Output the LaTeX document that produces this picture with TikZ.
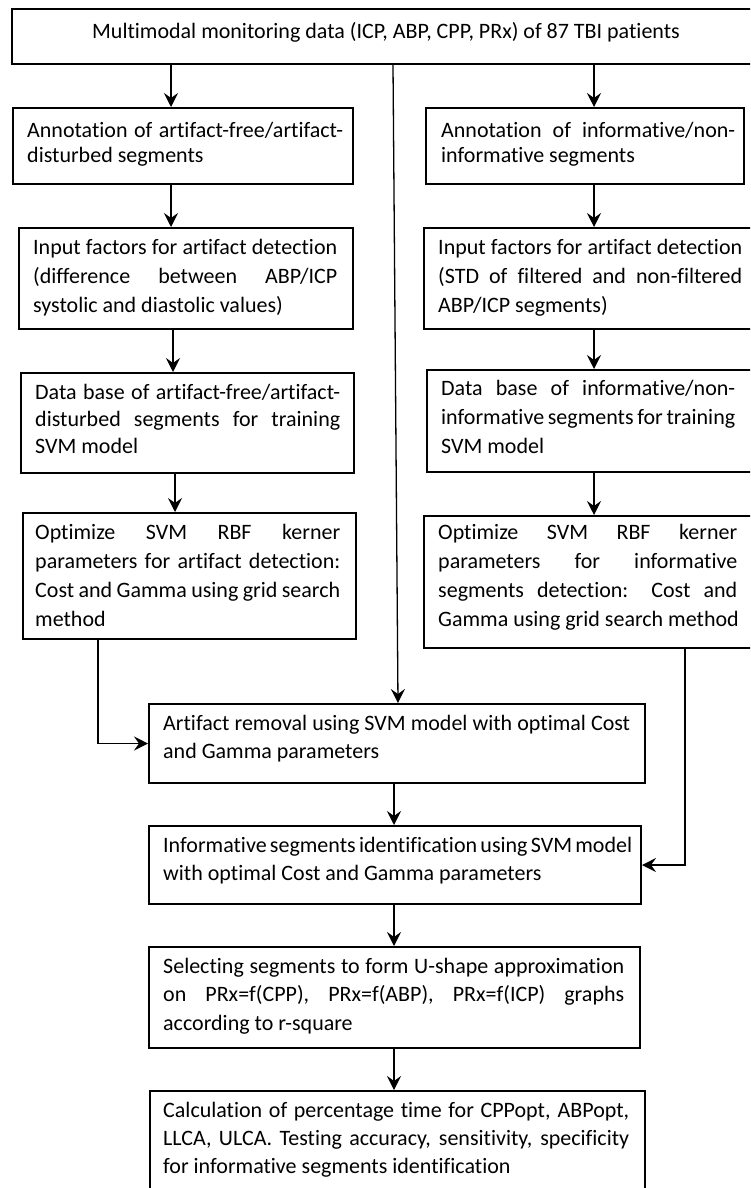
\documentclass[tikz,border=0pt]{standalone}
\usepackage{fontspec}
\setmainfont{Carlito}[Ligatures=NoCommon]
\usetikzlibrary{arrows.meta}
\newcommand{\fs}[1]{\fontsize{22pt}{#1pt}\selectfont}
\newlength{\tw}
\newcommand{\jline}[1]{{\spaceskip=0pt\xspaceskip=0pt\makebox[\tw][s]{\strut #1}}}
\newcommand{\lline}[1]{{\spaceskip=0pt\xspaceskip=0pt\makebox[\tw][l]{\strut #1}}}
\begin{document}
\begin{tikzpicture}[x=1pt,y=-1pt,
  box/.style={draw, line width=2pt, rectangle, inner sep=0pt, anchor=north west},
  txt/.style={inner sep=0pt, anchor=west, align=left},
  tw/.style={text width=#1pt, execute at begin node={\setlength{\tw}{#1pt}}},
  arr/.style={line width=1.3pt, -{Stealth[length=14pt,width=14pt,inset=5pt]}}]
\useasboundingbox (0,0) rectangle (750,1188);
\clip (0,0) rectangle (750,1188);
% boxes
\node[box, minimum width=750pt, minimum height=55pt] (top) at (11,8) {};
\node[box, minimum width=340pt, minimum height=76pt] (a1) at (12,107) {};
\node[box, minimum width=334pt, minimum height=101pt] (a2) at (18,227) {};
\node[box, minimum width=333pt, minimum height=100pt] (a3) at (20,372) {};
\node[box, minimum width=333pt, minimum height=126pt] (a4) at (22,512) {};
\node[box, minimum width=318pt, minimum height=76pt] (b1) at (425,107) {};
\node[box, minimum width=332pt, minimum height=101pt] (b2) at (423,227) {};
\node[box, minimum width=329pt, minimum height=102pt] (b3) at (426,369) {};
\node[box, minimum width=332pt, minimum height=132pt] (b4) at (423,515) {};
\node[box, minimum width=496pt, minimum height=79pt] (c1) at (148,703) {};
\node[box, minimum width=492pt, minimum height=78pt] (c2) at (148,825) {};
\node[box, minimum width=491pt, minimum height=101pt] (c3) at (148,946) {};
\node[box, minimum width=495pt, minimum height=130pt] (c4) at (149,1090) {};
% texts
\node[inner sep=0pt, font=\fs{29}] (topt) at (386,32) {Multimodal monitoring data (ICP, ABP, CPP, PRx) of 87 TBI patients};
\node[txt, tw=316, font=\fs{25}] (a1t) at (27,144.5) {\jline{Annotation of artifact-free/artifact-}\\\lline{disturbed segments}};
\node[txt, tw=304, font=\fs{29}] (a2t) at (33,278) {\jline{Input factors for artifact detection}\\\jline{(difference between ABP/ICP}\\\lline{systolic and diastolic values)}};
\node[txt, tw=305, font=\fs{27}] (a3t) at (35,421) {\jline{Data base of artifact-free/artifact-}\\\jline{disturbed segments for training}\\\lline{SVM model}};
\node[txt, tw=305, font=\fs{29}] (a4t) at (35,577) {\jline{Optimize SVM RBF kerner}\\\jline{parameters for artifact detection:}\\\jline{Cost and Gamma using grid search}\\\lline{method}};
\node[txt, tw=294, font=\fs{25}] (b1t) at (441,144.5) {\jline{Annotation of informative/non-}\\\lline{informative segments}};
\node[txt, tw=304, font=\fs{29}] (b2t) at (438,278) {\jline{Input factors for artifact detection}\\\jline{(STD of filtered and non-filtered}\\\lline{ABP/ICP segments)}};
\node[txt, tw=294, font=\fs{29}] (b3t) at (441,419) {\jline{Data base of informative/non-}\\\jline{informative segments for training}\\\lline{SVM model}};
\node[txt, tw=299, font=\fs{29}] (b4t) at (438,577) {\jline{Optimize SVM RBF kerner}\\\jline{parameters for informative}\\\jline{segments detection: Cost and}\\\lline{Gamma using grid search method}};
\node[txt, tw=467, font=\fs{28}] (c1t) at (163,739) {\jline{Artifact removal using SVM model with optimal Cost}\\\lline{and Gamma parameters}};
\node[txt, tw=466, font=\fs{28}] (c2t) at (163,861) {\jline{Informative segments identification using SVM model}\\\lline{with optimal Cost and Gamma parameters}};
\node[txt, tw=461, font=\fs{28.5}] (c3t) at (163,996) {\jline{Selecting segments to form U-shape approximation}\\\jline{on PRx=f(CPP), PRx=f(ABP), PRx=f(ICP) graphs}\\\lline{according to r-square}};
\node[txt, tw=466, font=\fs{28}] (c4t) at (163,1140) {\jline{Calculation of percentage time for CPPopt, ABPopt,}\\\jline{LLCA, ULCA. Testing accuracy, sensitivity, specificity}\\\lline{for informative segments identification}};
% connector x positions
\coordinate (xa0) at (171,0);
\coordinate (xa1) at (171,0);
\coordinate (xa2) at (173,0);
\coordinate (xa3) at (175,0);
\coordinate (xb) at (594,0);
\coordinate (xm0) at (393,0);
\coordinate (xm1) at (398,0);
\coordinate (xc) at (394,0);
\coordinate (xl) at (98,0);
\coordinate (xr) at (685,0);
% connectors
\draw[arr] (top.south -| xa0) -- (a1.north -| xa0);
\draw[arr] (a1.south -| xa1) -- (a2.north -| xa1);
\draw[arr] (a2.south -| xa2) -- (a3.north -| xa2);
\draw[arr] (a3.south -| xa3) -- (a4.north -| xa3);
\draw[arr] (top.south -| xb) -- (b1.north -| xb);
\draw[arr] (b1.south -| xb) -- (b2.north -| xb);
\draw[arr] (b2.south -| xb) -- (b3.north -| xb);
\draw[arr] (b3.south -| xb) -- (b4.north -| xb);
\draw[arr] (top.south -| xm0) -- (c1.north -| xm1);
\draw[arr] (a4.south -| xl) |- (c1.west);
\draw[arr] (b4.south -| xr) |- (c2.east);
\draw[arr] (c1.south -| xc) -- (c2.north -| xc);
\draw[arr] (c2.south -| xc) -- (c3.north -| xc);
\draw[arr] (c3.south -| xc) -- (c4.north -| xc);
\end{tikzpicture}
\end{document}
